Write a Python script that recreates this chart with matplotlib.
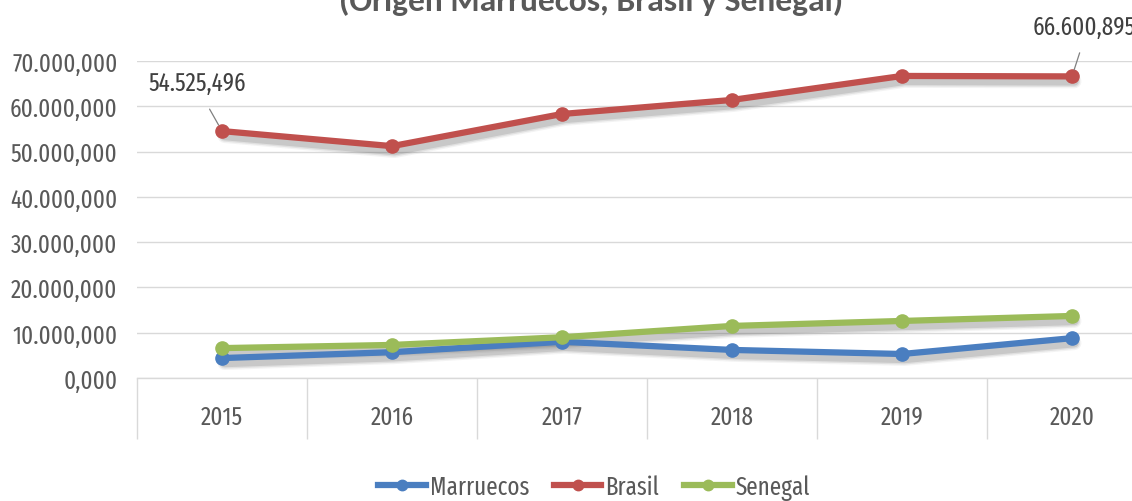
import matplotlib
matplotlib.use("Agg")
import matplotlib.pyplot as plt
from matplotlib.ticker import FuncFormatter, FixedLocator
from matplotlib.lines import Line2D
from matplotlib.transforms import ScaledTranslation

years = ["2015", "2016", "2017", "2018", "2019", "2020"]
marruecos = [4400.0, 5700.0, 8000.0, 6200.0, 5300.0, 8800.0]
brasil = [54525.496, 51200.0, 58300.0, 61400.0, 66700.0, 66600.895]
senegal = [6600.0, 7300.0, 9000.0, 11500.0, 12600.0, 13700.0]
series_names = ["Marruecos", "Brasil", "Senegal"]
title = "(Origen Marruecos, Brasil y Senegal)"
yticks = [0, 10000, 20000, 30000, 40000, 50000, 60000, 70000]

colors = ["#4A7EC0", "#C0504D", "#9BBB59"]
FONT = ["Fira Sans Extra Condensed", "DejaVu Sans"]
plt.rcParams['font.family'] = FONT
FS = 18

W, H = 1132, 502
fig = plt.figure(figsize=(W / 100, H / 100), dpi=100)
left, bottom = 137 / W, (H - 379) / H
width, height = 1020 / W, (379 - 62) / H
ax = fig.add_axes([left, bottom, width, height])

x = list(range(len(years)))
for vals, c, name in zip([marruecos, brasil, senegal], colors, series_names):
    # soft drop shadow (same data, shifted display transform)
    for lw, a in [(10, 0.06), (8, 0.10), (6, 0.15)]:
        tr = ax.transData + ScaledTranslation(2.5 / 100, -5 / 100, fig.dpi_scale_trans)
        ax.plot(x, vals, color="#404040", lw=lw, alpha=a, transform=tr,
                solid_capstyle="round", solid_joinstyle="round", zorder=2, clip_on=False)
    ax.plot(x, vals, color=c, lw=4.5, marker="o", ms=9.5, solid_capstyle="round",
            solid_joinstyle="round", label=name, zorder=3, clip_on=False)

ax.set_xlim(-0.5, len(years) - 0.5)
ax.set_ylim(0, 70000)
ax.yaxis.set_major_locator(FixedLocator(yticks))

def fmt(v, pos=None):
    s = f"{v:,.3f}"
    return s.replace(",", "X").replace(".", ",").replace("X", ".")

ax.yaxis.set_major_formatter(FuncFormatter(fmt))
ax.grid(axis="y", color="#D9D9D9", lw=1.0)
ax.set_axisbelow(True)
for s in ["top", "right", "left"]:
    ax.spines[s].set_visible(False)
ax.spines["bottom"].set_color("#D9D9D9")
ax.spines["bottom"].set_linewidth(1.0)
ax.tick_params(axis="y", length=0, labelsize=FS, labelcolor="#595959", pad=14)

ax.set_xticks(x)
ax.set_xticklabels(years)
ax.set_xticks([i - 0.5 for i in range(len(years) + 1)], minor=True)
ax.tick_params(axis="x", which="major", length=0, labelsize=FS, labelcolor="#595959", pad=19)
ax.tick_params(axis="x", which="minor", length=44, width=1.0, color="#D9D9D9", direction="out")

# data labels with leader lines
lab_kw = dict(fontsize=FS, color="#404040", ha="center", va="center", textcoords="figure pixels",
              annotation_clip=False)
ax.annotate(fmt(brasil[0]), xy=(x[0], brasil[0]), xytext=(197, H - 84),
            arrowprops=dict(arrowstyle="-", color="#808080", lw=0.9, relpos=(0.55, 0),
                            shrinkA=9, shrinkB=5), **lab_kw)
ax.annotate(fmt(brasil[5]), xy=(x[5], brasil[5]), xytext=(1084, H - 28),
            arrowprops=dict(arrowstyle="-", color="#808080", lw=0.9, relpos=(0.5, 0),
                            shrinkA=8, shrinkB=5), **lab_kw)

# title (top part cut off as in the reference), sized to the reference width
t = fig.text(591 / W, 1 - 10.5 / H, title, ha="center", va="baseline", fontsize=20,
             fontweight="bold", color="#595959", family=["Carlito", "DejaVu Sans"])
r = fig.canvas.get_renderer()
wpx = t.get_window_extent(renderer=r).width
t.set_fontsize(20 * 504 / wpx)

handles = [Line2D([], [], color=c, lw=4.5, marker="o", ms=7.5) for c in colors]
fig.legend(handles, series_names, loc="center", bbox_to_anchor=(594 / W, 1 - 488 / H),
           ncol=3, frameon=False, fontsize=FS, labelcolor="#595959", handlelength=1.9,
           handletextpad=0.15, columnspacing=1.0)

fig.savefig("out.png", dpi=100)
